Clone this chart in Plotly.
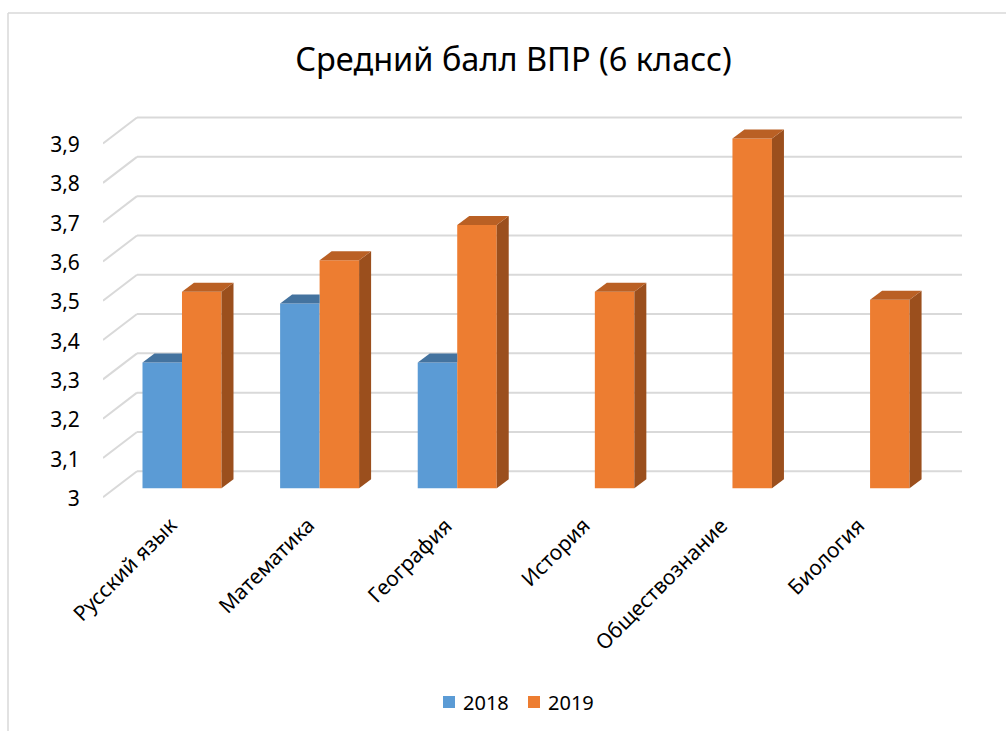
import plotly.graph_objects as go

# ---------------- data ----------------
categories = ["Русский язык", "Математика", "География", "История", "Обществознание", "Биология"]
series_names = ["2018", "2019"]
values_2018 = [3.32, 3.47, 3.32, None, None, None]
values_2019 = [3.50, 3.58, 3.67, 3.50, 3.89, 3.48]
y_ticks = [3.0, 3.1, 3.2, 3.3, 3.4, 3.5, 3.6, 3.7, 3.8, 3.9]
y_tick_labels = ["3", "3,1", "3,2", "3,3", "3,4", "3,5", "3,6", "3,7", "3,8", "3,9"]
title_text = "Средний балл ВПР (6 класс)"

# ---------------- style ----------------
FONT = "Noto Sans"
BLUE, BLUE_TOP, BLUE_SIDE = "#5B9BD5", "#44739F", "#3D6790"
ORANGE, ORANGE_TOP, ORANGE_SIDE = "#ED7D31", "#BA6024", "#9B4F1D"
GRID = "#D9D9D9"

W, H = 1006, 731
ML, MR, MT, MB = 103, 44, 111, 227
PW, PH = W - ML - MR, H - MT - MB


def px_x(px):
    return (px - ML) / PW


def px_y(py):
    return (H - MB - py) / PH


BASE = 3.0
X_RANGE = [-0.574, 5.668]
Y_RANGE = [2.96, 3.96]
BAR_W = 0.287            # width of one bar in category units
DX, DY = 0.0872, 0.0229  # bar depth offset (x units, y units)
BACK_DY = 0.0433         # back wall offset from bar front plane
FRONT_DY = -0.0229       # front floor edge offset
BACK_X = -0.327          # x of back-left corner
LABEL_DY = -0.026

fig = go.Figure()

# front faces
fig.add_trace(go.Bar(name=series_names[0], x=list(range(len(categories))),
                     y=[None if v is None else v - BASE for v in values_2018], base=BASE,
                     marker=dict(color=BLUE, line=dict(width=0)), offset=-BAR_W, width=BAR_W,
                     showlegend=False))
fig.add_trace(go.Bar(name=series_names[1], x=list(range(len(categories))),
                     y=[v - BASE for v in values_2019], base=BASE,
                     marker=dict(color=ORANGE, line=dict(width=0)), offset=0, width=BAR_W,
                     showlegend=False))


def poly(xs, ys, color):
    fig.add_trace(go.Scatter(x=xs + [xs[0]], y=ys + [ys[0]], mode="lines", fill="toself",
                             fillcolor=color, line=dict(width=0), hoverinfo="skip",
                             showlegend=False))


for i in range(len(categories)):
    b = values_2018[i]
    o = values_2019[i]
    if b is not None:
        xl, xr = i - BAR_W, i
        if o is not None and o >= b:
            poly([xl, xr, xr, xl + DX], [b, b, b + DY, b + DY], BLUE_TOP)
        else:
            poly([xl, xr, xr + DX, xl + DX], [b, b, b + DY, b + DY], BLUE_TOP)
            poly([xr, xr + DX, xr + DX, xr], [BASE, BASE + DY, b + DY, b], BLUE_SIDE)
    if o is not None:
        xl, xr = i, i + BAR_W
        poly([xr, xr + DX, xr + DX, xr], [BASE, BASE + DY, o + DY, o], ORANGE_SIDE)
        poly([xl, xr, xr + DX, xl + DX], [o, o, o + DY, o + DY], ORANGE_TOP)

# gridlines: back wall + left diagonal (below traces)
shapes = []
for v in y_ticks:
    shapes.append(dict(type="line", xref="x", yref="y", x0=BACK_X, x1=X_RANGE[1],
                       y0=v + BACK_DY, y1=v + BACK_DY, line=dict(color=GRID, width=2), layer="below"))
    shapes.append(dict(type="line", xref="x", yref="y", x0=X_RANGE[0], x1=BACK_X,
                       y0=v + FRONT_DY, y1=v + BACK_DY, line=dict(color=GRID, width=2), layer="below"))
# chart border (left and top)
shapes.append(dict(type="line", xref="paper", yref="paper", x0=px_x(8), x1=px_x(8),
                   y0=px_y(740), y1=px_y(13), line=dict(color=GRID, width=1.5)))
shapes.append(dict(type="line", xref="paper", yref="paper", x0=px_x(8), x1=px_x(1010),
                   y0=px_y(13), y1=px_y(13), line=dict(color=GRID, width=1.5)))

annotations = []
for i, c in enumerate(categories):
    annotations.append(dict(text=c, x=i + 0.022, y=-0.012, xref="x", yref="paper",
                            showarrow=False, textangle=-45, xanchor="right", yanchor="top",
                            font=dict(family=FONT, size=21, color="#000000")))

# custom legend (square + label)
legend_colors = [BLUE, ORANGE]
legend_left_px = [443, 528]
for name, col, lx in zip(series_names, legend_colors, legend_left_px):
    shapes.append(dict(type="rect", xref="paper", yref="paper",
                       x0=px_x(lx), x1=px_x(lx + 12), y0=px_y(708), y1=px_y(696),
                       fillcolor=col, line=dict(width=0)))
    annotations.append(dict(text=name, x=px_x(lx + 18), y=px_y(702), xref="paper", yref="paper",
                            showarrow=False, xanchor="left", yanchor="middle",
                            font=dict(family=FONT, size=20, color="#000000")))

fig.update_layout(
    width=W, height=H,
    margin=dict(l=ML, r=MR, t=MT, b=MB),
    paper_bgcolor="white", plot_bgcolor="rgba(0,0,0,0)",
    barmode="overlay",
    title=dict(text=title_text, xref="container", x=513.5 / W, xanchor="center",
               y=1 - 60 / H, yanchor="middle",
               font=dict(family=FONT, size=32.5, color="#000000")),
    xaxis=dict(range=X_RANGE, showgrid=False, zeroline=False, showline=False,
               showticklabels=False, ticks=""),
    yaxis=dict(range=Y_RANGE, showgrid=False, zeroline=False, showline=False,
               tickvals=[v + LABEL_DY for v in y_ticks], ticktext=y_tick_labels,
               ticks="outside", ticklen=18, tickcolor="rgba(0,0,0,0)",
               tickfont=dict(family=FONT, size=21, color="#000000")),
    shapes=shapes, annotations=annotations,
    showlegend=False,
)

fig.write_html("out.html", config={"displayModeBar": False},
               post_script="document.body.style.margin='0px';document.body.style.overflow='hidden';")
